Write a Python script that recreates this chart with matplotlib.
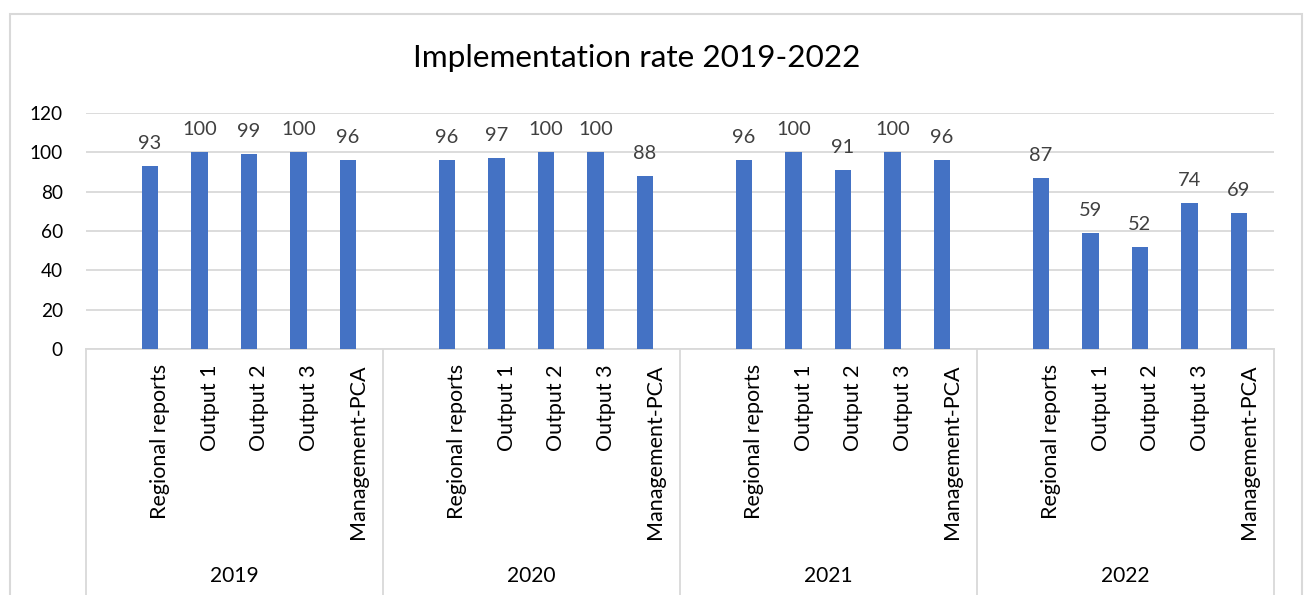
import matplotlib
matplotlib.use("Agg")
import matplotlib.pyplot as plt
from matplotlib.patches import Rectangle

years = ["2019", "2020", "2021", "2022"]
categories = ["Regional reports", "Output 1", "Output 2", "Output 3", "Management-PCA"]
values = {
    "2019": [93, 100, 99, 100, 96],
    "2020": [96, 97, 100, 100, 88],
    "2021": [96, 100, 91, 100, 96],
    "2022": [87, 59, 52, 74, 69],
}
yticks = [0, 20, 40, 60, 80, 100, 120]
title = "Implementation rate 2019-2022"

plt.rcParams['font.family'] = ['Lato', 'DejaVu Sans']

W, H = 1306, 595
DPI = 100
fig = plt.figure(figsize=(W / DPI, H / DPI), dpi=DPI)
fig.patch.set_facecolor("white")

def px2pt(p):
    return p * 72.0 / DPI

left, right, top, bottom = 86, 1274, 112.7, 349.3
ax = fig.add_axes([left / W, (H - bottom) / H, (right - left) / W, (bottom - top) / H])

# outer chart border
fig.patches.append(Rectangle((10 / W, -0.1), (1302 - 10) / W, (H - 14) / H + 0.1,
                             transform=fig.transFigure, fill=False,
                             edgecolor="#d9d9d9", linewidth=1.5, zorder=0))

bar_color = "#4472c4"
slots_per_group = len(categories) + 1
ngroups = len(years)
nslots = slots_per_group * ngroups
bar_w = 0.33
bar_off = -0.21

xt = ax.get_xaxis_transform()
for g, yr in enumerate(years):
    base = g * slots_per_group
    for i, (cat, v) in enumerate(zip(categories, values[yr])):
        xc = base + 1 + i + 0.5
        xb = xc + bar_off
        ax.bar(xb, v, width=bar_w, color=bar_color, zorder=3)
        ax.annotate(str(v), xy=(xb, v), xytext=(0, px2pt(17)), textcoords="offset points",
                    ha="center", va="baseline", fontsize=px2pt(20), color="#404040")
        ax.annotate(cat, xy=(xc, 0), xycoords=xt, xytext=(0, -px2pt(15)),
                    textcoords="offset points", rotation=90, ha="center", va="top",
                    fontsize=px2pt(21.5), color="black")
    # year label
    ax.annotate(yr, xy=(base + slots_per_group / 2, 0), xycoords=xt,
                xytext=(0, -px2pt(227)), textcoords="offset points",
                ha="center", va="center", fontsize=px2pt(21), color="black")

# group dividers
for g in range(ngroups + 1):
    x = g * slots_per_group
    ax.plot([x, x], [0, -1.2], transform=xt, color="#d9d9d9", linewidth=1.3,
            clip_on=False, zorder=1)

ax.set_xlim(0, nslots)
ax.set_ylim(0, 120)
ax.set_yticks(yticks)
ax.set_yticklabels([str(t) for t in yticks], fontsize=px2pt(19), color="black")
ax.tick_params(axis="y", length=0, pad=px2pt(23))
ax.set_xticks([])
ax.grid(axis="y", color="#d9d9d9", linewidth=1.3, zorder=0)
ax.set_axisbelow(True)
for s in ["top", "right", "left"]:
    ax.spines[s].set_visible(False)
ax.spines["bottom"].set_color("#d9d9d9")
ax.spines["bottom"].set_linewidth(1.3)

fig.text(637 / W, 1 - 58 / H, title, ha="center", va="center",
         fontsize=px2pt(31.5), color="black")

fig.savefig("out.png", dpi=DPI, facecolor="white")
